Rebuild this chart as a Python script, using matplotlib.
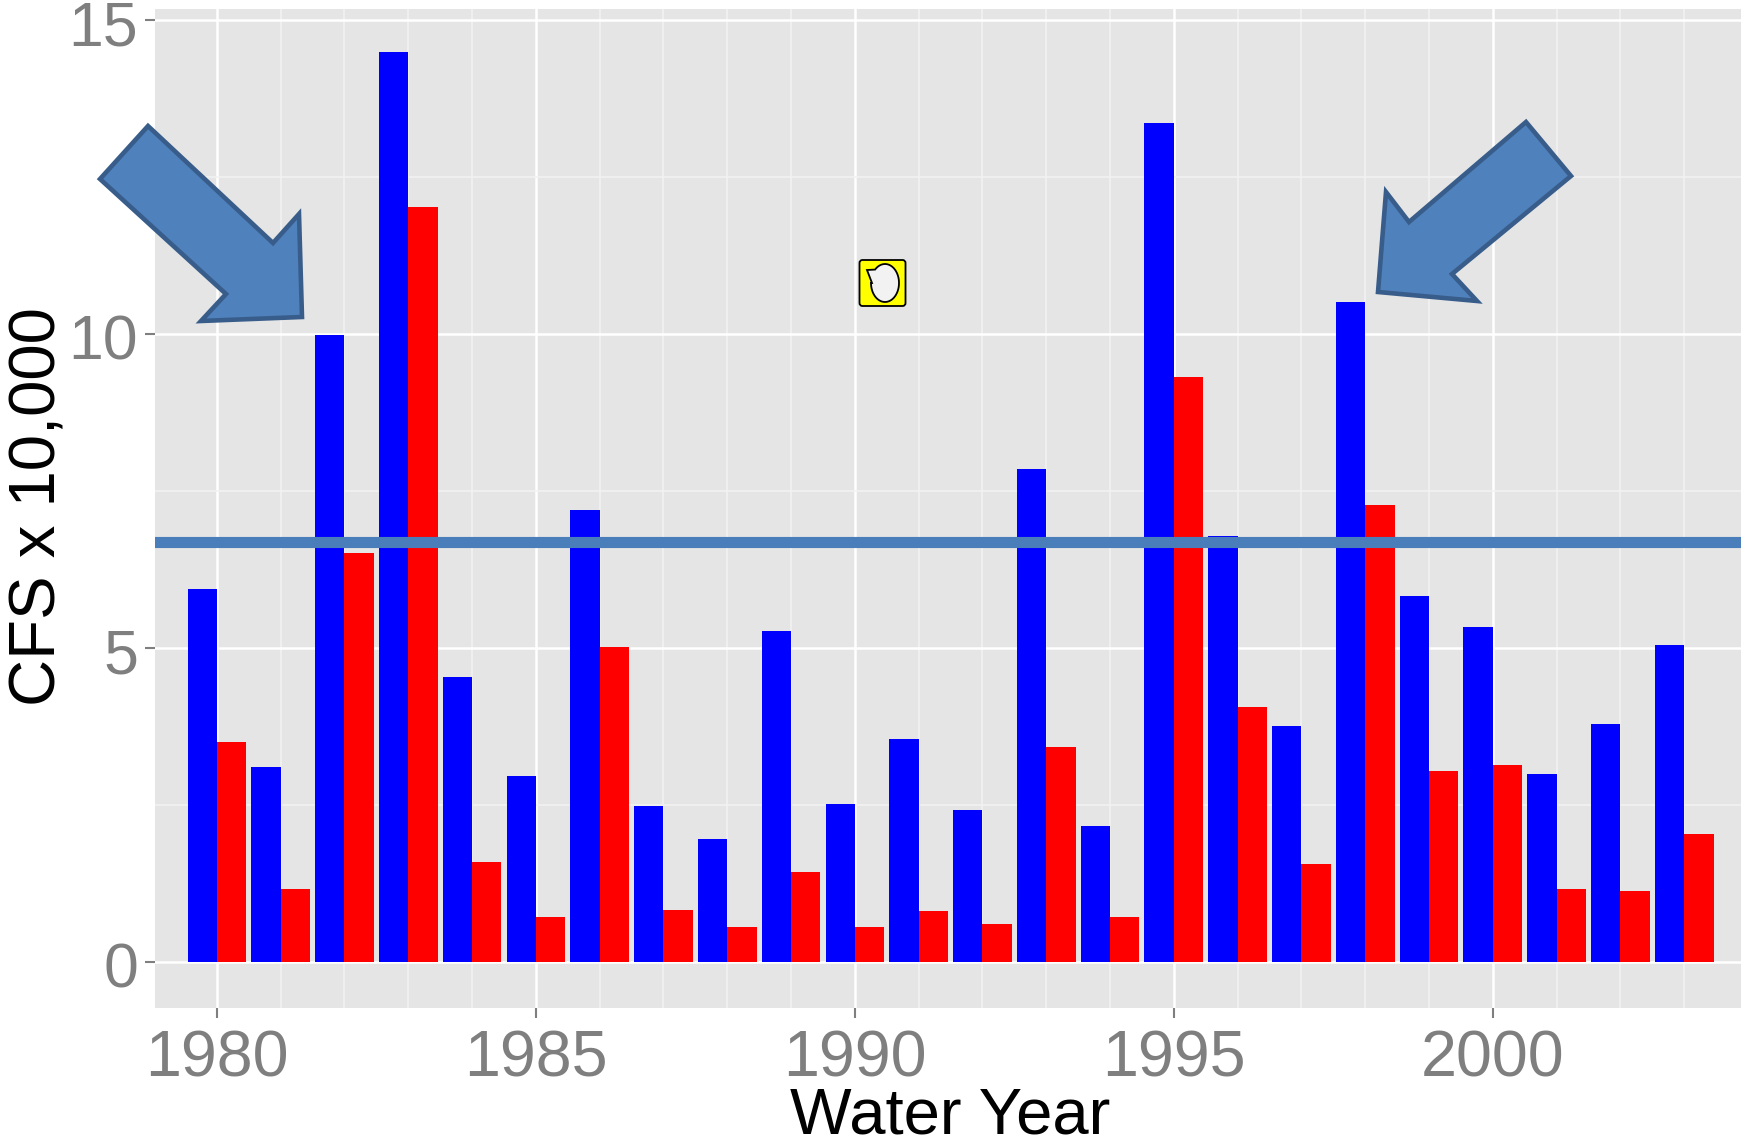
"""
Peak flow by water year with annotation arrows
"""
import matplotlib
matplotlib.use('Agg')
import matplotlib.pyplot as plt
from matplotlib.patches import Polygon, FancyBboxPatch
from matplotlib.transforms import Affine2D, ScaledTranslation
from matplotlib.ticker import MultipleLocator
import numpy as np

plt.rcParams['font.family'] = ['Liberation Sans', 'DejaVu Sans']

years = np.arange(1980, 2004)
blue_vals = [5.93, 3.10, 9.98, 14.48, 4.53, 2.96, 7.20, 2.48, 1.96, 5.26, 2.51, 3.54,
             2.42, 7.84, 2.16, 13.35, 6.78, 3.75, 10.51, 5.82, 5.33, 2.99, 3.79, 5.04]
red_vals = [3.50, 1.15, 6.51, 12.02, 1.59, 0.71, 5.01, 0.83, 0.55, 1.43, 0.55, 0.80,
            0.60, 3.42, 0.71, 9.31, 4.05, 1.56, 7.27, 3.04, 3.13, 1.15, 1.12, 2.04]
mean_line = 6.69

W, H = 1741, 1144
GREY = '#7f7f7f'

fig = plt.figure(figsize=(W / 100, H / 100), dpi=100, facecolor='white')
ax = fig.add_axes([155 / W, 1 - 1008 / H, (W - 155) / W, (1008 - 9) / H])
ax.set_facecolor('#e5e5e5')

width = 0.46
ax.bar(years - width / 2, blue_vals, width, color='#0000ff', zorder=3)
ax.bar(years + width / 2, red_vals, width, color='#ff0000', zorder=3)
ax.axhline(mean_line, xmin=0.0015, color='#4a7ebb', lw=8, zorder=4)

ax.set_xlim(1979.03, 2003.89)
ax.set_ylim(-0.737, 15.17)
ax.xaxis.set_major_locator(MultipleLocator(5))
ax.xaxis.set_minor_locator(MultipleLocator(1))
ax.yaxis.set_major_locator(MultipleLocator(5))
ax.yaxis.set_minor_locator(MultipleLocator(2.5))
ax.grid(which='major', color='white', lw=1.8, zorder=1)
ax.grid(which='minor', color='#f2f2f2', lw=1.2, zorder=1)
ax.set_axisbelow(True)
for s in ax.spines.values():
    s.set_visible(False)
ax.tick_params(which='major', length=7, width=1.5, color=GREY, labelcolor=GREY,
               labelsize=45, pad=5)
ax.tick_params(axis='x', which='major', pad=8.5, labelsize=46.5)
ax.tick_params(which='minor', length=0)

# y labels sit a little under their ticks
shift = ScaledTranslation(0, -3 / 100, fig.dpi_scale_trans)
for lab in ax.get_yticklabels():
    lab.set_transform(lab.get_transform() + shift)

fig.text(950 / W, 1 - 1117 / H, 'Water Year', fontsize=47, color='black', ha='center', va='center')
fig.text(39 / W, 1 - 507 / H, 'CFS x 10,000', fontsize=47, color='black', rotation=90,
         ha='center', va='center')

# annotations were pasted on top of the plot, so they sit in pixel coordinates
to_fig = Affine2D().scale(1, -1).translate(0, H)
left_arrow = [(148, 126), (100, 179), (226, 294), (201, 321), (302, 317), (299, 214), (273, 243)]
right_arrow = [(1526, 122), (1571, 176), (1452, 274), (1477, 301), (1378, 292), (1386, 192), (1409, 222)]
for pts in (left_arrow, right_arrow):
    fig.add_artist(Polygon(pts, closed=True, transform=to_fig, facecolor='#4f81bd',
                           edgecolor='#385d8a', lw=3.3, joinstyle='miter', zorder=6))

fig.add_artist(FancyBboxPatch((859.5, 260), 46, 46, boxstyle='round,pad=0,rounding_size=3',
                              transform=to_fig, facecolor='#ffff00', edgecolor='black',
                              lw=1.3, zorder=6))
t = np.radians(np.linspace(180, -135, 60))
bubble = [(867, 270), (872, 283)] + list(zip(885 + 14 * np.cos(t), 283 + 19 * np.sin(t)))
fig.add_artist(Polygon(bubble, closed=True, transform=to_fig, facecolor='#f2f2f2',
                       edgecolor='black', lw=1.3, zorder=7))

fig.savefig('out.png', dpi=100)
